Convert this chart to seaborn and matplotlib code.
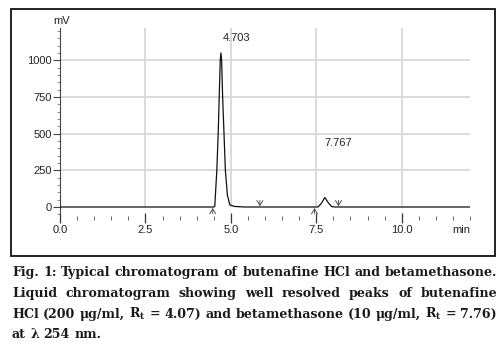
import matplotlib
matplotlib.use("Agg")
import matplotlib.pyplot as plt
import numpy as np
import pandas as pd
import seaborn as sns
from matplotlib.ticker import MultipleLocator
from matplotlib.patches import Rectangle

# ---- data ----
time_min = [0.0, 4.50, 4.53, 4.59, 4.63, 4.66, 4.69, 4.71, 4.73, 4.76, 4.80,
            4.84, 4.90, 4.97, 5.10, 5.40, 7.55, 7.65, 7.75, 7.85, 7.95, 8.05, 12.0]
signal_mv = [0, 0, 5, 250, 500, 750, 1000, 1050, 1000, 750, 500,
             250, 80, 15, 4, 0, 0, 25, 65, 30, 3, 0, 0]
peak_labels = ["4.703", "7.767"]
peak_label_x = [4.75, 7.75]
peak_label_y = [1155, 435]
arrow_up_times = [4.47, 7.45]
arrow_down_times = [5.85, 8.15]
x_ticks = [0.0, 2.5, 5.0, 7.5, 10.0]
x_tick_labels = ["0.0", "2.5", "5.0", "7.5", "10.0"]
y_ticks = [0, 250, 500, 750, 1000]
y_tick_labels = ["0", "250", "500", "750", "1000"]
caption_lines = [
    "Fig. 1: Typical chromatogram of butenafine HCl and betamethasone.",
    "Liquid chromatogram showing well resolved peaks of butenafine",
    "HCl (200 μg/ml, R$_\\mathrm{t}$ = 4.07) and betamethasone (10 μg/ml, R$_\\mathrm{t}$ = 7.76)",
    "at λ 254 nm.",
]

sns.set_theme(style="white")
plt.rcParams["font.family"] = ["Liberation Sans", "DejaVu Sans"]
plt.rcParams["mathtext.fontset"] = "custom"
plt.rcParams["mathtext.rm"] = "DejaVu Serif:bold"
plt.rcParams["mathtext.it"] = "DejaVu Serif:italic:bold"

W, H = 500, 349
fig = plt.figure(figsize=(W / 100, H / 100), dpi=100)
fig.patch.set_facecolor("white")


def fx(px):
    return px / W


def fy(py):
    return 1 - py / H


# outer frame
fig.add_artist(Rectangle((fx(11), fy(256)), fx(495) - fx(11), fy(9) - fy(256),
                         transform=fig.transFigure, fill=False,
                         edgecolor="#111111", lw=1.3))

ax = fig.add_axes([fx(60), fy(218), fx(470) - fx(60), fy(28) - fy(218)])
ax.set_facecolor("none")
df = pd.DataFrame({"t": time_min, "mV": signal_mv})
sns.lineplot(data=df, x="t", y="mV", ax=ax, color="#111111", lw=0.9,
             estimator=None, sort=False, zorder=3)
ax.set_xlim(0, 12)
ax.set_ylim(-75, 1220)

grid_c = "#d8d8d8"
ax.hlines(y_ticks[1:], 0, 12, color=grid_c, lw=1.3, zorder=0)
ax.vlines(x_ticks[1:], 0, 1220, color=grid_c, lw=1.3, zorder=0)

for s in ["top", "right", "bottom"]:
    ax.spines[s].set_visible(False)
ax.spines["left"].set_color("#444444")
ax.spines["left"].set_linewidth(0.8)
ax.spines["left"].set_bounds(-55, 1220)

ax.set_xticks(x_ticks, x_tick_labels)
ax.xaxis.set_minor_locator(MultipleLocator(0.5))
ax.set_yticks(y_ticks, y_tick_labels)
ax.yaxis.set_minor_locator(MultipleLocator(50))
ax.tick_params(axis="x", which="major", direction="inout", length=7, width=0.9,
               color="#333333", labelsize=8, labelcolor="#222222", pad=1.5,
               bottom=True)
ax.tick_params(axis="x", which="minor", direction="inout", length=3, width=0.7,
               color="#666666", bottom=True)
ax.tick_params(axis="y", which="major", direction="out", length=5, width=0.8,
               color="#444444", labelsize=8, labelcolor="#222222", pad=1,
               left=True)
ax.tick_params(axis="y", which="minor", direction="out", length=2.5, width=0.6,
               color="#777777", left=True)
ax.set_xlabel("")
ax.set_ylabel("")

ax.text(0.005, 1.0 + 7 / 190, "mV", transform=ax.transAxes, ha="center",
        va="center", fontsize=8, color="#222222")
ax.text((461 - 60) / 410, -12 / 190, "min", transform=ax.transAxes,
        ha="center", va="center", fontsize=8, color="#222222")

for lx, ly, lab in zip(peak_label_x, peak_label_y, peak_labels):
    ax.text(lx, ly, lab, ha="left", va="center", fontsize=8, color="#222222")

for t in arrow_up_times:
    ax.annotate("", xy=(t, -6), xytext=(t, -45),
                arrowprops=dict(arrowstyle="->,head_length=0.3,head_width=0.18",
                                color="#555555", lw=0.7, shrinkA=0, shrinkB=0))
for t in arrow_down_times:
    ax.annotate("", xy=(t, 4), xytext=(t, 45),
                arrowprops=dict(arrowstyle="->,head_length=0.3,head_width=0.18",
                                color="#555555", lw=0.7, shrinkA=0, shrinkB=0))

# ---- caption (justified) ----
renderer = fig.canvas.get_renderer()
baselines = [276, 297, 318, 338]
justify = [True, True, True, False]
x0, x1 = 12, 497
cap_kw = dict(fontfamily="DejaVu Serif", fontweight="bold", fontsize=9.1,
              color="#1a1a1a", va="baseline", ha="left")
space_t = fig.text(0, 0, "a a", **cap_kw)
aa_t = fig.text(0, 0, "aa", **cap_kw)
space_w = (space_t.get_window_extent(renderer).width
           - aa_t.get_window_extent(renderer).width)
space_t.remove()
aa_t.remove()
for line, yb, jus in zip(caption_lines, baselines, justify):
    words = line.split(" ")
    texts = [fig.text(0, fy(yb), w, **cap_kw) for w in words]
    widths = [t.get_window_extent(renderer).width for t in texts]
    if jus and len(words) > 1:
        gap = (x1 - x0 - sum(widths)) / (len(words) - 1)
    else:
        gap = space_w
    x = x0
    for t, w in zip(texts, widths):
        t.set_x(fx(x))
        x += w + gap

fig.savefig("out.png", dpi=100, facecolor="white")
